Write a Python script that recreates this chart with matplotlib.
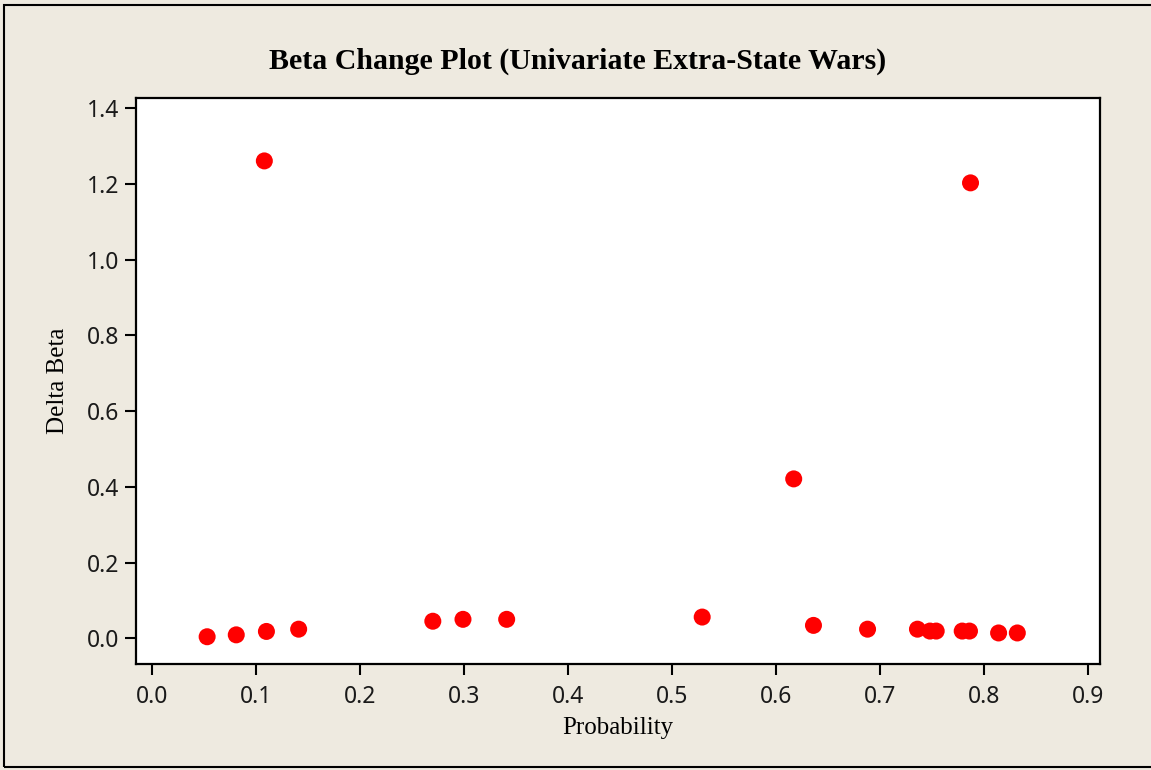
import numpy as np
import matplotlib
matplotlib.use('Agg')
import matplotlib.pyplot as plt
from matplotlib.patches import Rectangle

# probability vs delta beta
prob = [0.053, 0.081, 0.110, 0.141, 0.270, 0.299, 0.341, 0.529, 0.636, 0.688,
        0.736, 0.748, 0.754, 0.779, 0.786, 0.814, 0.832, 0.617, 0.108, 0.787]
delta_beta = [0.004, 0.009, 0.018, 0.024, 0.045, 0.050, 0.050, 0.056, 0.034, 0.024,
              0.024, 0.019, 0.019, 0.019, 0.019, 0.014, 0.014, 0.421, 1.261, 1.203]
xticks = np.arange(0, 0.91, 0.1)
yticks = np.arange(0, 1.41, 0.2)

bg = '#EEEAE0'
W, H = 1151, 770
fig = plt.figure(figsize=(W/100, H/100), dpi=100, facecolor=bg)
ax = fig.add_axes([136/W, 1-664/H, (1100-136)/W, (664-98)/H])
ax.set_facecolor('white')

ax.scatter(prob, delta_beta, s=150, color='#FF0000', edgecolors='none', zorder=3)

ax.set_xlim(-0.0154, 0.9115)
ax.set_ylim(-0.068, 1.4272)
ax.set_xticks(xticks)
ax.set_yticks(yticks)
ax.set_xticklabels([f'{v:.1f}' for v in xticks])
ax.set_yticklabels([f'{v:.1f}' for v in yticks])
ax.tick_params(direction='out', length=8, width=1.5, labelsize=16.5,
               labelcolor='#1a1a1a')
ax.tick_params(axis='x', pad=7)
ax.tick_params(axis='y', pad=4)
for lab in ax.get_xticklabels() + ax.get_yticklabels():
    lab.set_family('Noto Sans')
for sp in ax.spines.values():
    sp.set_linewidth(1.6)

ax.set_xlabel('Probability', family='Liberation Serif', fontsize=18, labelpad=6)
ax.set_ylabel('Delta Beta', family='Liberation Serif', fontsize=18, labelpad=13)

fig.text(578/W, 1-61/H, 'Beta Change Plot (Univariate Extra-State Wars)',
         ha='center', va='center', family='Liberation Serif', fontweight='bold',
         fontsize=21.5)

# outer frame
fig.patches.append(Rectangle((4/W, 3/H), 1.2, 1-8/H, transform=fig.transFigure,
                             fill=False, edgecolor='black', linewidth=1.5))

plt.savefig('out.png', dpi=100, facecolor=bg)
